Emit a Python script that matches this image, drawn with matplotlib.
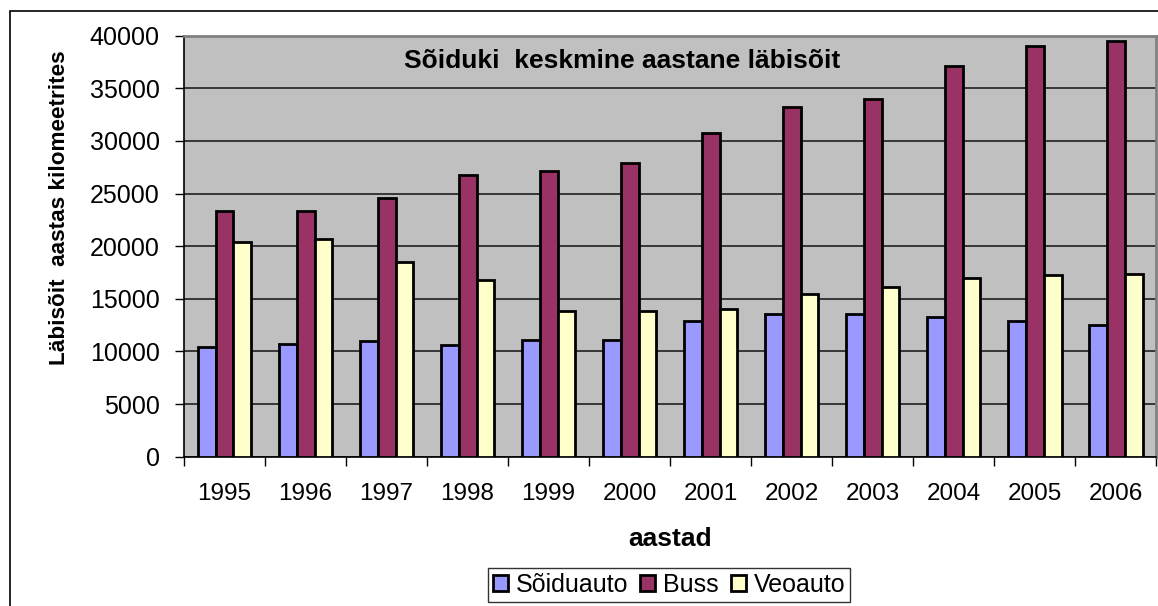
import numpy as np
import matplotlib.pyplot as plt
from matplotlib.patches import Rectangle

plt.rcParams['font.family'] = ['Liberation Sans', 'DejaVu Sans']

# Average yearly mileage per vehicle type (km)
years = ['1995', '1996', '1997', '1998', '1999', '2000',
         '2001', '2002', '2003', '2004', '2005', '2006']
soiduauto = [10400, 10700, 11000, 10600, 11100, 11100,
             12900, 13600, 13600, 13300, 12900, 12500]
buss = [23300, 23300, 24600, 26800, 27100, 27900,
        30800, 33200, 34000, 37100, 39050, 39500]
veoauto = [20400, 20700, 18500, 16800, 13800, 13800,
           14000, 15500, 16100, 17000, 17300, 17350]

series_names = ['Sõiduauto', 'Buss', 'Veoauto']
colors = ['#9999FF', '#993366', '#FFFFCC']

fig = plt.figure(figsize=(11.58, 6.06), dpi=100)
ax = fig.add_axes([0.1589, 0.2464, 0.8394, 0.6947])

# outer chart frame
fig.patches.append(Rectangle((10 / 1158, -0.1), 1.2, (606 - 10.5) / 606 + 0.1,
                             transform=fig.transFigure, fill=False,
                             edgecolor='black', linewidth=1.2))

x = np.arange(len(years))
w = 0.222
for i, (vals, name, c) in enumerate(zip([soiduauto, buss, veoauto], series_names, colors)):
    ax.bar(x + (i - 1) * w, vals, width=w, color=c, edgecolor='black',
           linewidth=2, label=name, zorder=3)

ax.set_facecolor('#C0C0C0')
ax.set_xlim(-0.5, len(years) - 0.5)
ax.set_ylim(0, 40000)
ax.set_yticks(np.arange(0, 40001, 5000))
ax.yaxis.grid(True, color='#202020', linewidth=1.2, zorder=1)
ax.set_axisbelow(True)

ax.set_xticks(x)
ax.set_xticklabels(years, fontsize=17.5)
ax.set_xticks(np.arange(-0.5, len(years), 1), minor=True)
ax.tick_params(axis='x', which='major', length=0, pad=19)
ax.tick_params(axis='x', which='minor', length=6.5, width=1, color='black')
ax.tick_params(axis='y', length=6.5, width=1, labelsize=18, pad=11)

for s in ['top', 'right']:
    ax.spines[s].set_color('#808080')
    ax.spines[s].set_linewidth(2)
for s in ['left', 'bottom']:
    ax.spines[s].set_color('black')
    ax.spines[s].set_linewidth(1.2)

ax.set_xlabel('aastad', fontsize=19, fontweight='bold', labelpad=16)
ax.set_ylabel('Läbisõit  aastas kilomeetrites', fontsize=16.2,
              fontweight='bold', va='center')
ax.yaxis.set_label_coords(-(184 - 59) / 972, 0.591)

ax.text(4.907, 37550, 'Sõiduki  keskmine aastane läbisõit',
        ha='center', va='center', fontsize=19, fontweight='bold', zorder=4)

leg = fig.legend(loc='center', bbox_to_anchor=(669 / 1158, 1 - 585 / 606),
                 ncol=3, fontsize=18, frameon=True, fancybox=False,
                 handlelength=0.6, handleheight=0.6, handletextpad=0.3,
                 columnspacing=0.5, borderpad=0.2, borderaxespad=0)
leg.get_frame().set_edgecolor('black')
leg.get_frame().set_linewidth(1)

fig.savefig('out.png', dpi=100)
